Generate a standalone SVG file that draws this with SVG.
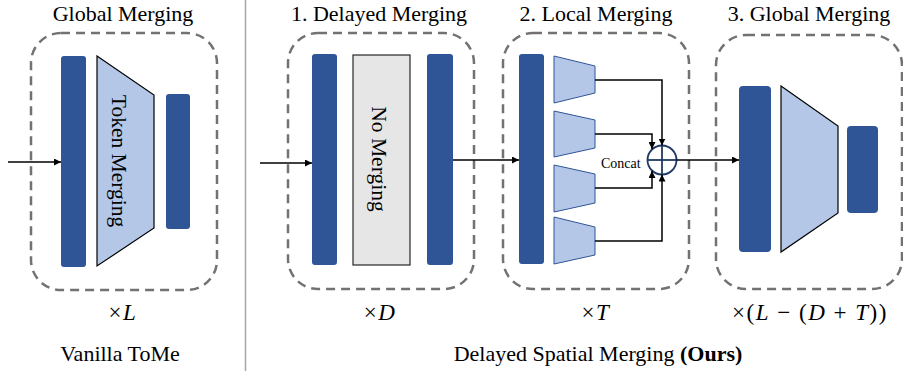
<svg xmlns="http://www.w3.org/2000/svg" width="903" height="371" viewBox="0 0 903 371">
<defs>
<marker id="ah" viewBox="0 0 10 10" refX="10" refY="5" markerWidth="7" markerHeight="7" markerUnits="userSpaceOnUse" orient="auto">
<path d="M0,0 L10,5 L0,10 z" fill="#000"/>
</marker>
<style>
.dash{fill:none;stroke:#767171;stroke-width:2.5;stroke-dasharray:9,6}
.bar{fill:#2f5597}
.trap{fill:#b4c7e7;stroke:#000;stroke-width:1.2}
.ltrap{fill:#b4c7e7;stroke:#2f5597;stroke-width:1}
.t{font-family:"Liberation Serif","Times New Roman",serif;fill:#000}
.title{font-size:22px;text-anchor:middle}
.bot{font-size:22px;text-anchor:middle}
.math{font-size:23px;text-anchor:middle;letter-spacing:1.5px}
.rot{font-size:21.5px;text-anchor:middle;dominant-baseline:central}
.ln{fill:none;stroke:#000;stroke-width:1.5}
.arr{fill:none;stroke:#000;stroke-width:1.5;marker-end:url(#ah)}
</style>
</defs>
<rect width="903" height="371" fill="#fff"/>
<line x1="245.5" y1="0" x2="245.5" y2="371" stroke="#a6a6a6" stroke-width="1.5"/>

<g id="vanilla">
<text class="t title" x="123" y="21">Global Merging</text>
<rect class="dash" x="31" y="33" width="186" height="257" rx="30"/>
<rect class="bar" x="61" y="56" width="25" height="211" rx="3"/>
<polygon class="trap" points="97,56 154,95 154,228 97,266"/>
<text class="t rot" transform="translate(119,161) rotate(90)">Token Merging</text>
<rect class="bar" x="166" y="94" width="24" height="135" rx="3"/>
<text class="t math" x="123" y="320"><tspan>×</tspan><tspan font-style="italic">L</tspan></text>
<text class="t bot" x="120" y="361">Vanilla ToMe</text>
</g>

<g id="delayed">
<text class="t title" x="379" y="21">1. Delayed Merging</text>
<rect class="dash" x="288" y="33" width="186" height="256" rx="30"/>
<rect class="bar" x="312" y="54" width="25" height="211" rx="3"/>
<rect x="353" y="55" width="57" height="210" fill="#e7e6e6" stroke="#262626" stroke-width="1.2"/>
<text class="t rot" transform="translate(379,159) rotate(90)">No Merging</text>
<rect class="bar" x="427" y="54" width="26" height="211" rx="3"/>
<text class="t math" x="380" y="320"><tspan>×</tspan><tspan font-style="italic">D</tspan></text>
</g>

<g id="local">
<text class="t title" x="596" y="21">2. Local Merging</text>
<rect class="dash" x="503" y="33" width="186" height="256" rx="30"/>
<rect class="bar" x="519" y="54" width="25" height="210" rx="3"/>
<polygon class="ltrap" points="554,56 595,66 595,93 554,103"/>
<polygon class="ltrap" points="554,111 595,120 595,148 554,157"/>
<polygon class="ltrap" points="554,165 595,174 595,203 554,212"/>
<polygon class="ltrap" points="554,217 595,227 595,255 554,264"/>
<text class="t" x="601" y="168" font-size="14">Concat</text>
<text class="t math" x="596" y="320"><tspan>×</tspan><tspan font-style="italic">T</tspan></text>
</g>

<g id="concat">
<circle cx="662" cy="160" r="14.5" fill="#fff" stroke="#1f3864" stroke-width="1.8"/>
<line x1="647.5" y1="160" x2="676.5" y2="160" stroke="#1f3864" stroke-width="1.8"/>
<line x1="662" y1="145.5" x2="662" y2="174.5" stroke="#1f3864" stroke-width="1.8"/>
</g>

<g id="global">
<text class="t title" x="809" y="21">3. Global Merging</text>
<rect class="dash" x="716" y="35" width="186" height="254" rx="30"/>
<rect class="bar" x="739" y="86" width="32" height="166" rx="4"/>
<polygon class="trap" points="781,86 838,126 838,213 781,252"/>
<rect class="bar" x="847" y="126" width="31" height="87" rx="4"/>
<text class="t math" x="810" y="320"><tspan>×(</tspan><tspan font-style="italic">L</tspan><tspan> − (</tspan><tspan font-style="italic">D</tspan><tspan> + </tspan><tspan font-style="italic">T</tspan><tspan>))</tspan></text>
</g>

<g id="caption">
<text class="t bot" x="598" y="361">Delayed Spatial Merging <tspan font-weight="bold">(Ours)</tspan></text>
</g>

<g id="connectors">
<line class="arr" x1="8" y1="162" x2="61" y2="162"/>
<line class="arr" x1="260" y1="163" x2="312" y2="163"/>
<line class="arr" x1="453" y1="160" x2="519" y2="160"/>
<line class="arr" x1="676.5" y1="160" x2="739" y2="160"/>
<polyline class="arr" points="595,80 662,80 662,145.5"/>
<polyline class="arr" points="595,134 652,134 652,149"/>
<polyline class="arr" points="595,188 652,188 652,171"/>
<polyline class="arr" points="595,241 662,241 662,174.5"/>
</g>
</svg>
